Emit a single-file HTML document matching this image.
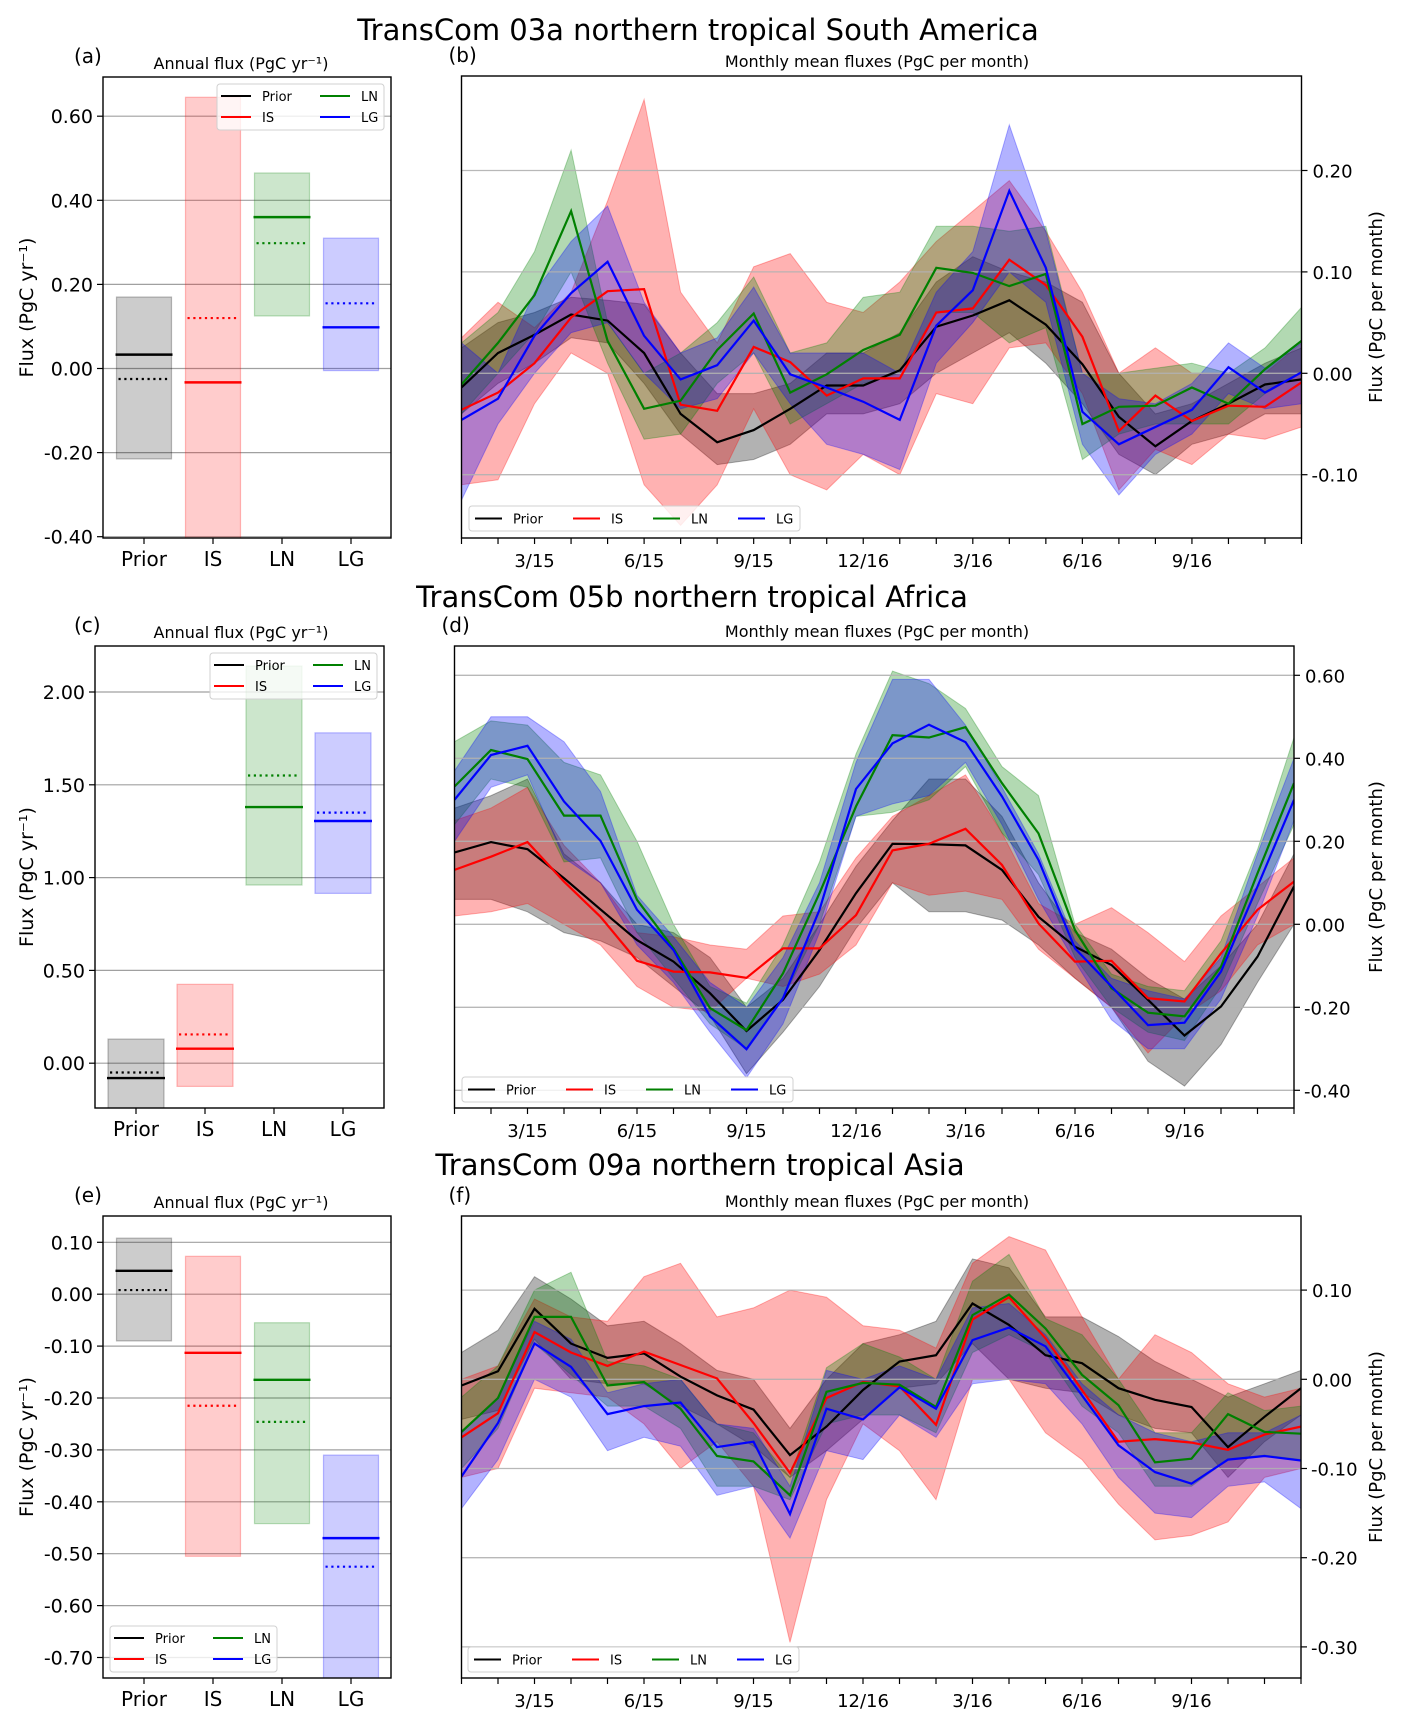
<!DOCTYPE html>
<html><head><meta charset="utf-8"><style>
html,body{margin:0;padding:0;background:#fff;}
svg{display:block;font-family:"DejaVu Sans","Liberation Sans",sans-serif;}
</style></head><body>
<svg id="fig" xmlns="http://www.w3.org/2000/svg" width="1403" height="1724" viewBox="0 0 1403 1724">
<rect x="0" y="0" width="1403" height="1724" fill="#fff"/>
<text x="698" y="40" font-size="29" text-anchor="middle">TransCom 03a northern tropical South America</text>
<text x="692" y="607" font-size="29" text-anchor="middle">TransCom 05b northern tropical Africa</text>
<text x="700" y="1175" font-size="29" text-anchor="middle">TransCom 09a northern tropical Asia</text>
</svg>
<script>
// ---------- Annual flux panels (box lo/hi, solid, dotted) order: Prior, IS, LN, LG
const aCats = ['Prior','IS','LN','LG'];
const aBoxLo = [-0.215,-0.42,0.125,-0.005];
const aBoxHi = [0.17,0.645,0.465,0.31];
const aSolid = [0.033,-0.033,0.36,0.098];
const aDotted = [-0.025,0.12,0.298,0.155];
const aTicks = [0.6,0.4,0.2,0.0,-0.2,-0.4];

const cBoxLo = [-0.3,-0.125,0.96,0.915];
const cBoxHi = [0.13,0.425,2.14,1.78];
const cSolid = [-0.08,0.078,1.38,1.305];
const cDotted = [-0.05,0.155,1.55,1.35];
const cTicks = [2.0,1.5,1.0,0.5,0.0];

const eBoxLo = [-0.09,-0.505,-0.442,-0.8];
const eBoxHi = [0.108,0.073,-0.055,-0.31];
const eSolid = [0.045,-0.113,-0.165,-0.47];
const eDotted = [0.008,-0.215,-0.246,-0.525];
const eTicks = [0.1,0.0,-0.1,-0.2,-0.3,-0.4,-0.5,-0.6,-0.7];

// ---------- Monthly panels (24 months Jan 2015 .. Dec 2016)
const monthTickIdx = [2,5,8,11,14,17,20];
const monthTickLabels = ['3/15','6/15','9/15','12/16','3/16','6/16','9/16'];

const bTicks = [0.2,0.1,0.0,-0.1];
const bPriorMean = [-0.014,0.02,0.038,0.058,0.052,0.02,-0.04,-0.068,-0.056,-0.035,-0.012,-0.012,0.003,0.046,0.057,0.072,0.048,0.009,-0.043,-0.072,-0.047,-0.03,-0.011,-0.006];
const bPriorHi = [0.025,0.05,0.06,0.075,0.072,0.068,0.02,-0.02,-0.02,-0.01,0.02,0.02,0.04,0.09,0.115,0.1,0.09,0.07,0.0,-0.04,-0.03,-0.01,0.01,0.025];
const bPriorLo = [-0.04,-0.01,0.01,0.035,0.03,-0.01,-0.06,-0.09,-0.085,-0.07,-0.04,-0.04,-0.03,0.0,0.02,0.04,0.01,-0.03,-0.08,-0.1,-0.07,-0.06,-0.04,-0.04];
const bISMean = [-0.036,-0.019,0.01,0.055,0.081,0.083,-0.031,-0.037,0.026,0.011,-0.022,-0.005,-0.005,0.06,0.064,0.112,0.087,0.036,-0.057,-0.022,-0.047,-0.032,-0.033,-0.009];
const bISHi = [0.035,0.07,0.045,0.08,0.17,0.27,0.08,0.03,0.105,0.118,0.07,0.06,0.09,0.13,0.16,0.19,0.14,0.08,0.0,0.025,0.0,0.0,0.0,0.03];
const bISLo = [-0.11,-0.105,-0.03,0.02,0.0,-0.11,-0.15,-0.11,-0.035,-0.1,-0.115,-0.08,-0.1,-0.02,-0.03,0.025,0.03,-0.02,-0.115,-0.075,-0.09,-0.06,-0.065,-0.053];
const bLNMean = [-0.011,0.03,0.077,0.16,0.032,-0.035,-0.027,0.023,0.059,-0.019,-0.001,0.023,0.038,0.104,0.099,0.086,0.098,-0.05,-0.033,-0.032,-0.014,-0.03,0.004,0.032];
const bLNHi = [0.03,0.06,0.12,0.22,0.05,0.0,0.02,0.05,0.095,0.02,0.03,0.075,0.08,0.145,0.145,0.14,0.145,0.0,0.0,0.005,0.01,0.0,0.025,0.065];
const bLNLo = [-0.04,0.0,0.04,0.1,0.01,-0.065,-0.06,-0.01,0.02,-0.05,-0.03,-0.01,0.0,0.06,0.06,0.03,0.045,-0.085,-0.06,-0.05,-0.05,-0.05,-0.02,0.0];
const bLGMean = [-0.046,-0.025,0.037,0.079,0.11,0.037,-0.006,0.008,0.052,-0.001,-0.014,-0.028,-0.046,0.047,0.082,0.18,0.104,-0.038,-0.07,-0.053,-0.036,0.006,-0.019,0.001];
const bLGHi = [0.03,0.0,0.08,0.13,0.165,0.07,0.02,0.035,0.085,0.02,0.02,0.02,0.0,0.08,0.12,0.245,0.14,0.0,-0.025,-0.03,-0.01,0.03,0.005,0.03];
const bLGLo = [-0.125,-0.05,0.0,0.04,0.05,0.0,-0.035,-0.025,0.02,-0.03,-0.07,-0.08,-0.095,0.01,0.05,0.1,0.07,-0.07,-0.12,-0.08,-0.06,-0.02,-0.035,-0.03];

const dTicks = [0.6,0.4,0.2,0.0,-0.2,-0.4];
const dPriorMean = [0.173,0.198,0.181,0.111,0.036,-0.038,-0.09,-0.166,-0.257,-0.182,-0.062,0.075,0.194,0.193,0.19,0.131,0.018,-0.054,-0.098,-0.182,-0.268,-0.198,-0.078,0.091];
const dPriorHi = [0.28,0.31,0.35,0.17,0.1,0.0,-0.02,-0.08,-0.2,-0.13,0.0,0.14,0.25,0.35,0.35,0.26,0.1,-0.02,-0.06,-0.13,-0.18,-0.1,0.0,0.17];
const dPriorLo = [0.06,0.06,0.03,-0.02,-0.04,-0.08,-0.15,-0.22,-0.36,-0.26,-0.15,-0.01,0.1,0.03,0.03,0.01,-0.05,-0.13,-0.2,-0.33,-0.39,-0.29,-0.14,0.0];
const dISMean = [0.131,0.163,0.198,0.103,0.018,-0.088,-0.114,-0.116,-0.129,-0.058,-0.058,0.022,0.178,0.194,0.23,0.143,0.002,-0.09,-0.088,-0.178,-0.186,-0.07,0.035,0.103];
const dISHi = [0.25,0.28,0.33,0.19,0.1,-0.02,-0.03,-0.05,-0.06,0.02,0.03,0.16,0.26,0.31,0.36,0.22,0.05,0.0,0.04,-0.02,-0.09,0.02,0.09,0.16];
const dISLo = [0.02,0.03,0.05,0.0,-0.05,-0.15,-0.2,-0.21,-0.13,-0.15,-0.12,-0.05,0.1,0.07,0.08,0.06,-0.06,-0.13,-0.2,-0.31,-0.22,-0.16,-0.05,0.0];
const dLNMean = [0.332,0.42,0.398,0.262,0.262,0.059,-0.058,-0.202,-0.255,-0.118,0.075,0.284,0.456,0.45,0.475,0.34,0.219,-0.014,-0.154,-0.213,-0.222,-0.102,0.123,0.34];
const dLNHi = [0.44,0.49,0.48,0.39,0.36,0.2,0.0,-0.15,-0.19,-0.05,0.15,0.41,0.61,0.58,0.52,0.38,0.31,0.0,-0.12,-0.15,-0.16,-0.04,0.18,0.45];
const dLNLo = [0.24,0.35,0.33,0.15,0.16,-0.02,-0.13,-0.24,-0.3,-0.18,0.0,0.26,0.27,0.3,0.38,0.22,0.12,-0.08,-0.2,-0.26,-0.28,-0.15,0.05,0.24];
const dLGMean = [0.3,0.408,0.43,0.296,0.201,0.035,-0.062,-0.222,-0.301,-0.178,0.035,0.326,0.436,0.481,0.439,0.308,0.155,-0.058,-0.15,-0.243,-0.237,-0.114,0.091,0.3];
const dLGHi = [0.37,0.5,0.5,0.44,0.32,0.07,-0.03,-0.14,-0.2,-0.08,0.1,0.39,0.59,0.59,0.48,0.33,0.17,-0.04,-0.13,-0.16,-0.18,-0.08,0.17,0.4];
const dLGLo = [0.2,0.33,0.36,0.16,0.1,-0.05,-0.14,-0.26,-0.37,-0.24,-0.02,0.26,0.29,0.31,0.39,0.24,0.06,-0.09,-0.23,-0.3,-0.3,-0.18,0.02,0.25];

const fTicks = [0.1,0.0,-0.1,-0.2,-0.3];
const fPriorMean = [-0.007,0.009,0.079,0.04,0.024,0.029,0.003,-0.018,-0.034,-0.085,-0.053,-0.012,0.02,0.027,0.085,0.061,0.027,0.018,-0.01,-0.023,-0.031,-0.076,-0.042,-0.01];
const fPriorHi = [0.03,0.055,0.115,0.09,0.06,0.065,0.04,0.01,0.0,-0.055,0.0,0.04,0.05,0.065,0.135,0.125,0.07,0.07,0.048,0.02,0.0,-0.02,-0.005,0.01];
const fPriorLo = [-0.045,-0.035,0.045,0.0,-0.005,-0.005,-0.03,-0.05,-0.075,-0.11,-0.08,-0.045,-0.01,-0.005,0.04,0.0,-0.01,-0.015,-0.04,-0.055,-0.06,-0.11,-0.07,-0.04];
const fISMean = [-0.065,-0.038,0.053,0.03,0.015,0.031,0.016,0.001,-0.049,-0.105,-0.021,-0.003,-0.008,-0.051,0.067,0.092,0.046,-0.012,-0.07,-0.067,-0.071,-0.079,-0.062,-0.053];
const fISHi = [0.0,0.015,0.09,0.07,0.065,0.115,0.13,0.07,0.08,0.1,0.092,0.06,0.055,0.035,0.13,0.16,0.145,0.07,0.0,0.05,0.03,-0.005,-0.02,-0.01];
const fISLo = [-0.11,-0.1,-0.01,-0.015,-0.02,-0.05,-0.1,-0.07,-0.12,-0.295,-0.135,-0.05,-0.08,-0.135,0.0,0.0,-0.06,-0.09,-0.14,-0.18,-0.175,-0.16,-0.11,-0.1];
const fLNMean = [-0.059,-0.021,0.07,0.07,-0.007,-0.003,-0.033,-0.086,-0.092,-0.13,-0.014,-0.004,-0.006,-0.031,0.072,0.095,0.057,0.005,-0.029,-0.093,-0.089,-0.039,-0.059,-0.061];
const fLNHi = [-0.02,0.015,0.1,0.12,0.02,0.015,0.0,-0.05,-0.06,-0.11,0.013,0.04,0.025,0.0,0.11,0.14,0.068,0.05,0.0,-0.06,-0.06,-0.015,-0.035,-0.03];
const fLNLo = [-0.1,-0.055,0.04,0.005,-0.03,-0.03,-0.055,-0.12,-0.12,-0.135,-0.05,-0.04,-0.04,-0.06,0.03,0.05,0.03,-0.03,-0.06,-0.12,-0.12,-0.09,-0.085,-0.09];
const fLGMean = [-0.109,-0.049,0.04,0.014,-0.039,-0.03,-0.026,-0.076,-0.07,-0.151,-0.033,-0.045,-0.009,-0.033,0.044,0.058,0.037,-0.018,-0.074,-0.104,-0.117,-0.09,-0.086,-0.091];
const fLGHi = [-0.06,-0.02,0.065,0.045,-0.015,-0.005,0.0,-0.05,-0.055,-0.12,0.01,0.0,0.015,0.0,0.08,0.085,0.05,-0.005,-0.04,-0.06,-0.07,-0.06,-0.06,-0.04];
const fLGLo = [-0.145,-0.09,0.0,-0.02,-0.08,-0.065,-0.075,-0.13,-0.12,-0.178,-0.08,-0.09,-0.04,-0.065,-0.005,0.0,-0.005,-0.05,-0.11,-0.15,-0.155,-0.12,-0.115,-0.145];

const NS = 'http://www.w3.org/2000/svg';
const svg = document.getElementById('fig');
const COLORS = ['#000000','#ff0000','#008000','#0000ff'];
const NAMES = ['Prior','IS','LN','LG'];
function mk(tag, attrs, parent){
  const e = document.createElementNS(NS, tag);
  for (const k in attrs) e.setAttribute(k, attrs[k]);
  (parent || svg).appendChild(e);
  return e;
}
function txt(s, attrs, parent){ const t = mk('text', attrs, parent); t.textContent = s; return t; }
let clipN = 0;

function barPanel(p){
  const g = mk('g', {});
  
  
  const yS = v => p.yz - v * p.ppu;
  const id = 'clip' + (clipN++);
  const cp = mk('clipPath', {id: id}, g);
  mk('rect', {x: p.x0, y: p.y0, width: p.x1 - p.x0, height: p.y1 - p.y0}, cp);
  const pg = mk('g', {'clip-path': 'url(#' + id + ')'}, g);
  p.ticks.forEach(t => {
    const gl = mk('line', {x1: p.x0, x2: p.x1, y1: yS(t), y2: yS(t), stroke: '#a0a0a0', 'stroke-width': 1.2}, pg);
    
    
  });
  for (let i = 0; i < 4; i++){
    const cx = p.cx0 + i * p.step;
    const top = yS(p.hi[i]), bot = yS(p.lo[i]);
    const r = mk('rect', {x: cx - p.bw/2, y: top, width: p.bw, height: bot - top, fill: COLORS[i], 'fill-opacity': 0.2, stroke: COLORS[i], 'stroke-opacity': 0.25, 'stroke-width': 1.2}, pg);
    
    
    const s = mk('line', {x1: cx - p.bw/2 - 1, x2: cx + p.bw/2 + 1, y1: yS(p.solid[i]), y2: yS(p.solid[i]), stroke: COLORS[i], 'stroke-width': 2.4}, pg);
    
    
    const d = mk('line', {x1: cx - p.bw/2 + 2, x2: cx + p.bw/2 - 3, y1: yS(p.dotted[i]), y2: yS(p.dotted[i]), stroke: COLORS[i], 'stroke-width': 2.2, 'stroke-dasharray': '2.2 3.6'}, pg);
    
    
    const tk = mk('line', {x1: cx, x2: cx, y1: p.y1, y2: p.y1 + 6, stroke: '#000', 'stroke-width': 1.2}, g);
    
    
    const tl = txt(aCats[i], {x: cx, y: p.y1 + 28, 'font-size': 20, 'text-anchor': 'middle'}, g);
    
    
  }
  p.ticks.forEach(t => {
    const tk = mk('line', {x1: p.x0 - 6, x2: p.x0, y1: yS(t), y2: yS(t), stroke: '#000', 'stroke-width': 1.2}, g);
    
    
    const tl = txt(t.toFixed(2), {x: p.x0 - 10, y: yS(t) + 7, 'font-size': 19, 'text-anchor': 'end'}, g);
    
    
  });
  const fr = mk('rect', {x: p.x0, y: p.y0, width: p.x1 - p.x0, height: p.y1 - p.y0, fill: 'none', stroke: '#000', 'stroke-width': 1.4}, g);
  
  
  const yl = txt('Flux (PgC yr⁻¹)', {x: 0, y: 0, 'font-size': 19, 'text-anchor': 'middle', transform: 'translate(33,' + ((p.y0 + p.y1)/2) + ') rotate(-90)'}, g);
  
  
  const st = txt('Annual flux (PgC yr⁻¹)', {x: 241, y: p.y0 - 8, 'font-size': 16, 'text-anchor': 'middle'}, g);
  
  
  const pl = txt(p.label, {x: 74, y: p.y0 - 14, 'font-size': 20}, g);
  
  
  const L = p.leg;
  const lg = mk('g', {}, g);
  
  
  mk('rect', {x: L.x, y: L.y, width: 167, height: 46, rx: 3, fill: '#fff', 'fill-opacity': 0.8, stroke: '#d0d0d0'}, lg);
  for (let i = 0; i < 4; i++){
    const c = (i === 0 || i === 1) ? 0 : 1;
    const r = i % 2;
    const lx = L.x + 4 + c * 99, ly = L.y + 12 + r * 21;
    const ent = mk('g', {}, lg);
    
    
    mk('line', {x1: lx, x2: lx + 30, y1: ly, y2: ly, stroke: COLORS[i], 'stroke-width': 2}, ent);
    txt(NAMES[i], {x: lx + 41, y: ly + 5, 'font-size': 13}, ent);
  }
}

function timePanel(p){
  const g = mk('g', {});
  
  
  const n = p.series[0].mean.length;
  const xS = i => p.x0 + i * (p.x1 - p.x0) / (n - 1);
  const yS = v => p.yz - v * p.ppu;
  const id = 'clip' + (clipN++);
  const cp = mk('clipPath', {id: id}, g);
  mk('rect', {x: p.x0, y: p.y0, width: p.x1 - p.x0, height: p.y1 - p.y0}, cp);
  const pg = mk('g', {'clip-path': 'url(#' + id + ')'}, g);
  p.series.forEach((s, k) => {
    let d = '';
    s.hi.forEach((v, i) => { d += (i ? 'L' : 'M') + xS(i).toFixed(1) + ',' + yS(v).toFixed(1); });
    for (let i = n - 1; i >= 0; i--) d += 'L' + xS(i).toFixed(1) + ',' + yS(s.lo[i]).toFixed(1);
    const f = mk('path', {d: d + 'Z', fill: COLORS[k], 'fill-opacity': 0.3, stroke: COLORS[k], 'stroke-opacity': 0.3, 'stroke-width': 1}, pg);
    
    
  });
  p.ticks.forEach(t => {
    const gl = mk('line', {x1: p.x0, x2: p.x1, y1: yS(t), y2: yS(t), stroke: '#b0b0b0', 'stroke-width': 1.3, 'stroke-opacity': 0.9}, pg);
    
    
  });
  p.series.forEach((s, k) => {
    const pts = s.mean.map((v, i) => xS(i).toFixed(1) + ',' + yS(v).toFixed(1)).join(' ');
    const l = mk('polyline', {points: pts, fill: 'none', stroke: COLORS[k], 'stroke-width': 2.2, 'stroke-linejoin': 'miter'}, pg);
    
    
  });
  for (let i = 0; i < n; i++){
    const tk = mk('line', {x1: xS(i), x2: xS(i), y1: p.y1, y2: p.y1 + 6, stroke: '#000', 'stroke-width': 1.2}, g);
    
    
  }
  monthTickIdx.forEach((m, j) => {
    const tl = txt(monthTickLabels[j], {x: xS(m), y: p.y1 + 29, 'font-size': 18, 'text-anchor': 'middle'}, g);
    
    
  });
  p.ticks.forEach(t => {
    const tk = mk('line', {x1: p.x1, x2: p.x1 + 6, y1: yS(t), y2: yS(t), stroke: '#000', 'stroke-width': 1.2}, g);
    
    
    const lbl = (t < 0 ? '-' : '') + Math.abs(t).toFixed(2);
    const tl = txt(lbl, {x: p.x1 + (t < 0 ? 10 : 11), y: yS(t) + 7, 'font-size': 18}, g);
    
    
  });
  const fr = mk('rect', {x: p.x0, y: p.y0, width: p.x1 - p.x0, height: p.y1 - p.y0, fill: 'none', stroke: '#000', 'stroke-width': 1.4}, g);
  
  
  const yl = txt('Flux (PgC per month)', {x: 0, y: 0, 'font-size': 18, 'text-anchor': 'middle', transform: 'translate(1382,' + ((p.y0 + p.y1)/2) + ') rotate(-90)'}, g);
  
  
  const st = txt('Monthly mean fluxes (PgC per month)', {x: 877, y: p.y0 - 9, 'font-size': 16, 'text-anchor': 'middle'}, g);
  
  
  const pl = txt(p.label, {x: p.x0 - 13, y: p.y0 - 14, 'font-size': 20}, g);
  
  
  const lg = mk('g', {}, g);
  
  
  mk('rect', {x: p.legX, y: p.legY, width: 331, height: 25, rx: 3, fill: '#fff', 'fill-opacity': 0.8, stroke: '#d0d0d0'}, lg);
  const offs = [6, 104, 184, 269];
  for (let k = 0; k < 4; k++){
    const ent = mk('g', {}, lg);
    
    
    const lx = p.legX + offs[k], ly = p.legY + 12.5;
    mk('line', {x1: lx, x2: lx + 27, y1: ly, y2: ly, stroke: COLORS[k], 'stroke-width': 2}, ent);
    txt(NAMES[k], {x: lx + 38, y: ly + 5, 'font-size': 13}, ent);
  }
}

barPanel({name: 'annual-flux-panel-a', label: '(a)', x0: 103, x1: 391, y0: 77, y1: 538, yz: 368.5, ppu: 420.5,
  ticks: aTicks, cx0: 144, step: 69, bw: 55, lo: aBoxLo, hi: aBoxHi, solid: aSolid, dotted: aDotted, leg: {x: 217, y: 84}});
barPanel({name: 'annual-flux-panel-c', label: '(c)', x0: 95, x1: 384, y0: 646, y1: 1108, yz: 1063.2, ppu: 185.6,
  ticks: cTicks, cx0: 136, step: 69, bw: 56, lo: cBoxLo, hi: cBoxHi, solid: cSolid, dotted: cDotted, leg: {x: 210, y: 653}});
barPanel({name: 'annual-flux-panel-e', label: '(e)', x0: 103, x1: 391, y0: 1216, y1: 1678, yz: 1294.2, ppu: 519,
  ticks: eTicks, cx0: 144, step: 69, bw: 55, lo: eBoxLo, hi: eBoxHi, solid: eSolid, dotted: eDotted, leg: {x: 110, y: 1626}});

timePanel({name: 'monthly-flux-panel-b', label: '(b)', x0: 461.5, x1: 1301.5, y0: 76, y1: 538, yz: 373.3, ppu: 1014, ticks: bTicks, legX: 469, legY: 506,
  series: [{mean: bPriorMean, hi: bPriorHi, lo: bPriorLo}, {mean: bISMean, hi: bISHi, lo: bISLo}, {mean: bLNMean, hi: bLNHi, lo: bLNLo}, {mean: bLGMean, hi: bLGHi, lo: bLGLo}]});
timePanel({name: 'monthly-flux-panel-d', label: '(d)', x0: 454.5, x1: 1294, y0: 646, y1: 1108, yz: 924.3, ppu: 415, ticks: dTicks, legX: 462, legY: 1077,
  series: [{mean: dPriorMean, hi: dPriorHi, lo: dPriorLo}, {mean: dISMean, hi: dISHi, lo: dISLo}, {mean: dLNMean, hi: dLNHi, lo: dLNLo}, {mean: dLGMean, hi: dLGHi, lo: dLGLo}]});
timePanel({name: 'monthly-flux-panel-f', label: '(f)', x0: 461.5, x1: 1301, y0: 1216, y1: 1678, yz: 1379.3, ppu: 892, ticks: fTicks, legX: 468, legY: 1647,
  series: [{mean: fPriorMean, hi: fPriorHi, lo: fPriorLo}, {mean: fISMean, hi: fISHi, lo: fISLo}, {mean: fLNMean, hi: fLNHi, lo: fLNLo}, {mean: fLGMean, hi: fLGHi, lo: fLGLo}]});
</script>
</body></html>
